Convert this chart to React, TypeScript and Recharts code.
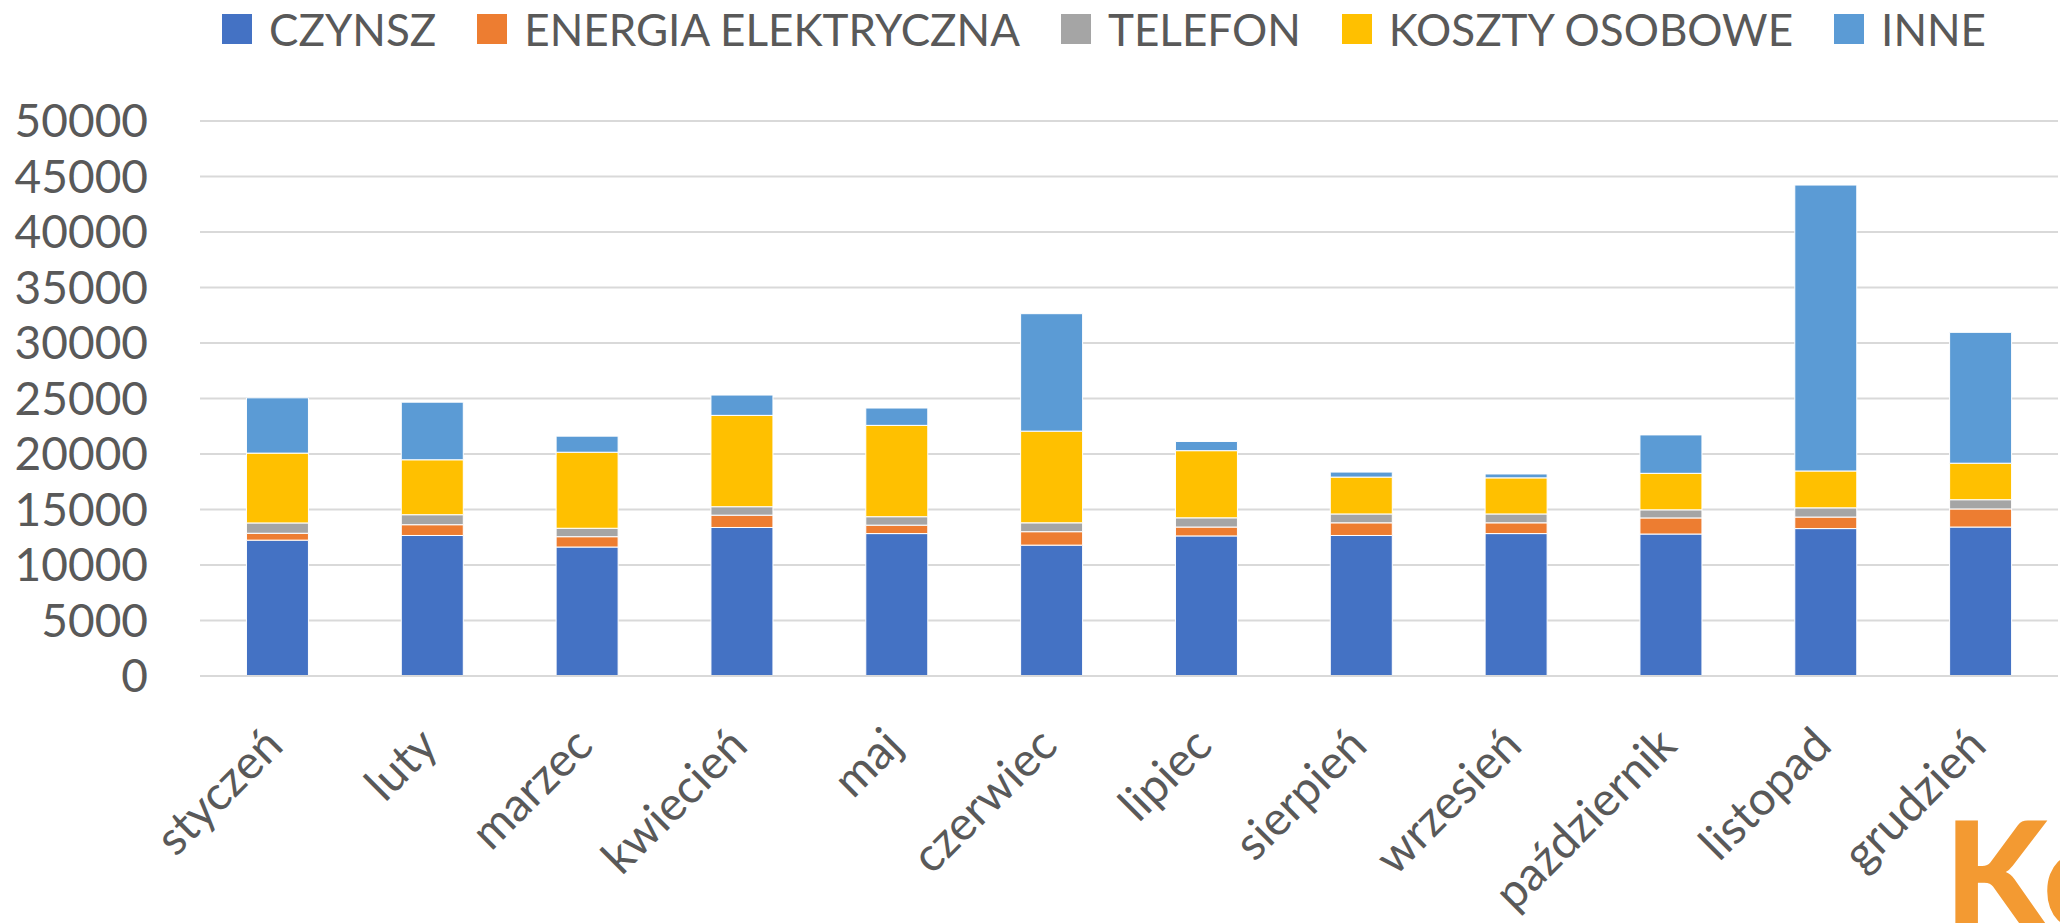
import React from "react";
import { BarChart, Bar, XAxis, YAxis, CartesianGrid, Legend } from "recharts";

const months = [
  "styczeń", "luty", "marzec", "kwiecień", "maj", "czerwiec",
  "lipiec", "sierpień", "wrzesień", "październik", "listopad", "grudzień",
];
const czynsz = [12240, 12660, 11620, 13380, 12830, 11790, 12620, 12660, 12830, 12790, 13280, 13420];
const energia = [620, 970, 930, 1110, 760, 1210, 800, 1140, 970, 1450, 1040, 1630];
const telefon = [930, 900, 760, 760, 760, 800, 830, 800, 800, 730, 830, 830];
const koszty = [6290, 4950, 6850, 8230, 8230, 8260, 6050, 3320, 3250, 3290, 3320, 3290];
const inne = [4980, 5190, 1450, 1830, 1560, 10580, 830, 450, 350, 3460, 25760, 11790];
const yTicks = [0, 5000, 10000, 15000, 20000, 25000, 30000, 35000, 40000, 45000, 50000];

const SERIES = [
  { key: "czynsz", name: "CZYNSZ", color: "#4472C4", values: czynsz },
  { key: "energia", name: "ENERGIA ELEKTRYCZNA", color: "#ED7D31", values: energia },
  { key: "telefon", name: "TELEFON", color: "#A5A5A5", values: telefon },
  { key: "koszty", name: "KOSZTY OSOBOWE", color: "#FFC000", values: koszty },
  { key: "inne", name: "INNE", color: "#5B9BD5", values: inne },
];

const data = months.map((m, i) => {
  const row: Record<string, string | number> = { month: m };
  SERIES.forEach((s) => (row[s.key] = s.values[i]));
  return row;
});

const FONT = "Lato, 'Open Sans', sans-serif";
const TEXT = "#595959";

function MonthTick({ x, y, payload }: any) {
  const ax = x + 8;
  const ay = y + 72;
  return (
    <text x={ax} y={ay} transform={`rotate(-45 ${ax} ${ay})`} textAnchor="end"
      fill={TEXT} fontSize={47} fontFamily={FONT}>
      {payload.value}
    </text>
  );
}

function LegendRow() {
  return (
    <div style={{ display: "flex", alignItems: "center", paddingLeft: 222, fontFamily: FONT, fontSize: 44, color: TEXT, lineHeight: "58px" }}>
      {SERIES.map((s, i) => (
        <div key={s.key} style={{ display: "flex", alignItems: "center", marginRight: i < SERIES.length - 1 ? 41 : 0 }}>
          <span style={{ width: 30, height: 30, background: s.color, marginRight: 17, display: "inline-block" }} />
          <span>{s.name}</span>
        </div>
      ))}
    </div>
  );
}

export default function App() {
  return (
    <div style={{ position: "absolute", left: 0, top: 0, width: 2060, height: 923, background: "#fff", overflow: "hidden" }}>
      <BarChart width={2060} height={923} data={data}
        margin={{ top: 121, right: 2, left: 0, bottom: 0 }} barCategoryGap="30%">
        <CartesianGrid vertical={false} stroke="#D9D9D9" strokeWidth={2} />
        <XAxis dataKey="month" height={247} tickSize={0} tickMargin={0}
          axisLine={{ stroke: "#D9D9D9", strokeWidth: 2 }} tick={<MonthTick />} interval={0} />
        <YAxis width={200} domain={[0, 50000]} ticks={yTicks} interval={0} tickSize={0} tickMargin={52}
          axisLine={false} tick={{ fill: TEXT, fontSize: 46, fontFamily: FONT }} />
        <Legend verticalAlign="middle" layout="horizontal"
          wrapperStyle={{ top: 0, left: 0, width: 2060 }} content={() => <LegendRow />} />
        {SERIES.map((s) => (
          <Bar key={s.key} dataKey={s.key} name={s.name} stackId="a" fill={s.color}
            stroke="#ffffff" strokeWidth={1} isAnimationActive={false} />
        ))}
      </BarChart>
      <svg width={2060} height={923} style={{ position: "absolute", left: 0, top: 0, pointerEvents: "none" }}>
        <text x={1944} y={930} fill="#F39A32" fontSize={150} fontWeight={900} fontFamily={FONT}>Ko</text>
      </svg>
    </div>
  );
}
